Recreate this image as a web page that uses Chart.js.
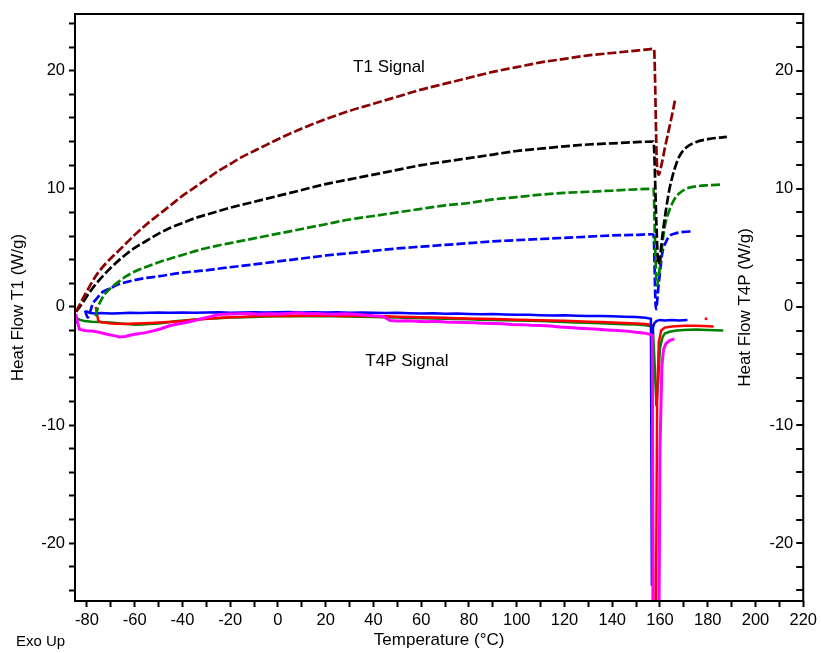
<!DOCTYPE html>
<html>
<head>
<meta charset="utf-8">
<title>DSC Heat Flow – T1 / T4P</title>
<script src="https://cdn.jsdelivr.net/npm/chart.js@4.4.1/dist/chart.umd.min.js"></script>
<style>
  html, body { margin: 0; padding: 0; background: #fff; }
  canvas { display: block; }
</style>
</head>
<body>
<canvas id="dsc" width="821" height="653"></canvas>
<script>
// ---------- axis ticks ----------
const xTickValues = [-80, -70, -60, -50, -40, -30, -20, -10, 0, 10, 20, 30, 40, 50, 60, 70, 80, 90, 100,
  110, 120, 130, 140, 150, 160, 170, 180, 190, 200, 210, 220];
const xLabelValues = [-80, -60, -40, -20, 0, 20, 40, 60, 80, 100, 120, 140, 160, 180, 200, 220];
const yTickValues = [-24, -22, -20, -18, -16, -14, -12, -10, -8, -6, -4, -2, 0, 2, 4, 6, 8, 10, 12, 14, 16, 18, 20, 22, 24];
const yLabelValues = [-20, -10, 0, 10, 20];
const xMin = -85, xMax = 220;
const yMin = -24.9, yMax = 24.8;

// ---------- T1 signal (dashed) ----------
const t1MaroonTemp = [-84.5, -82, -79, -76, -72, -68, -64, -60, -55, -50, -45, -40, -35, -30, -25, -20, -15, -10, -5, 0,
  10, 20, 30, 40, 50, 60, 70, 80, 90, 100, 110, 120, 130, 140, 150,
  155, 157.5, 158.7, 159.5, 160.5, 162, 163.5, 165, 166.3];
const t1MaroonFlow = [-0.4, 0.6, 1.7, 2.7, 3.7, 4.5, 5.3, 6.1, 7.0, 7.8, 8.6, 9.4, 10.1, 10.8, 11.5, 12.1, 12.7, 13.2, 13.7, 14.2,
  15.1, 15.9, 16.6, 17.2, 17.8, 18.4, 18.9, 19.4, 19.9, 20.3, 20.7, 21.0, 21.3, 21.5, 21.7,
  21.8, 21.85, 12.2, 11.2, 11.9, 13.4, 14.8, 16.2, 17.5];

const t1BlackTemp = [-84.5, -82, -79, -76, -72, -68, -64, -60, -55, -50, -45, -40, -35, -30, -25, -20, -10, 0,
  10, 20, 30, 40, 50, 60, 70, 80, 90, 100, 110, 120, 130, 140, 150,
  157.3, 158.5, 159.3, 160, 161, 162.5, 164, 166, 168, 171, 175, 180, 188];
const t1BlackFlow = [-0.4, 0.3, 1.2, 2.0, 2.9, 3.7, 4.4, 5.0, 5.6, 6.2, 6.7, 7.1, 7.5, 7.8, 8.1, 8.4, 8.9, 9.4,
  9.9, 10.4, 10.8, 11.2, 11.6, 12.0, 12.3, 12.6, 12.9, 13.2, 13.4, 13.6, 13.75, 13.85, 13.95,
  14.0, 7.0, 3.6, 4.2, 6.0, 8.2, 10.0, 11.6, 12.7, 13.5, 13.95, 14.2, 14.4];

const t1GreenTemp = [-76.3, -75.5, -74, -72, -70, -67, -63.5, -60, -55, -49.6, -45, -40, -35, -31.6, -25, -20, -10, 0,
  10, 20, 30, 40, 50, 60, 70, 80, 90, 100, 110, 120, 130, 140, 150,
  157.3, 158, 158.7, 159.5, 160.5, 162, 164, 166, 168, 171, 175, 180, 185.5];
const t1GreenFlow = [-0.8, -0.1, 0.6, 1.2, 1.6, 2.1, 2.6, 3.0, 3.4, 3.8, 4.1, 4.4, 4.7, 4.9, 5.2, 5.4, 5.8, 6.2,
  6.6, 7.0, 7.4, 7.7, 8.0, 8.3, 8.6, 8.8, 9.1, 9.3, 9.5, 9.65, 9.75, 9.85, 9.95,
  10.0, 5.0, 1.8, 2.6, 4.5, 6.8, 8.2, 9.1, 9.6, 10.0, 10.2, 10.3, 10.35];

const t1BlueTemp = [-80.8, -79.6, -78.5, -77.7, -75.5, -73.5, -70, -67, -63.5, -57, -49.6, -40, -30, -24.5, -10, 0,
  10, 20, 30, 40, 50, 60, 70, 80, 90, 100, 110, 120, 130, 140, 150,
  156.5, 157.3, 158.3, 159.5, 161, 162.5, 164, 166, 168, 170, 173.5];
const t1BlueFlow = [-0.3, -0.9, -0.3, 0.2, 0.8, 1.25, 1.6, 1.9, 2.1, 2.4, 2.6, 2.9, 3.1, 3.25, 3.6, 3.85,
  4.1, 4.35, 4.55, 4.75, 4.95, 5.1, 5.25, 5.4, 5.55, 5.65, 5.75, 5.85, 5.95, 6.05, 6.1,
  6.15, 6.1, -0.2, 2.0, 4.6, 5.5, 6.0, 6.2, 6.3, 6.35, 6.4];

// ---------- T4P signal (solid) ----------
const t4pBlueTemp = [-80.3, -79, -77, -74, -70, -66, -62, -58, -54, -50,
  -45, -40, -35, -30, -25, -20, -15, -10, -5, 0,
  5, 10, 15, 20, 25, 30, 35, 40, 45, 50, 55, 60, 65, 70, 75, 80, 85, 90, 95, 100,
  105, 110, 115, 120, 125, 130, 135, 140, 145, 150,
  154, 156.2, 156.6, 157.0, 157.6, 158.5, 160, 162, 165, 168, 171.5];
const t4pBlueFlow = [-0.35, -0.5, -0.55, -0.52, -0.55, -0.53, -0.5, -0.52, -0.5, -0.48,
  -0.5, -0.47, -0.5, -0.48, -0.46, -0.5, -0.47, -0.45, -0.48, -0.46,
  -0.44, -0.47, -0.45, -0.48, -0.46, -0.5, -0.48, -0.5, -0.52, -0.5, -0.53, -0.55, -0.54, -0.57, -0.56, -0.6, -0.62, -0.6, -0.64, -0.67,
  -0.66, -0.7, -0.72, -0.71, -0.75, -0.78, -0.77, -0.8, -0.83, -0.86,
  -0.92, -1.0, -23.6, -1.8, -1.4, -1.2, -1.1, -1.15, -1.1, -1.15, -1.1];

const t4pRedTemp = [-76.3, -75.8, -75.2, -74, -72, -70, -67, -64, -60, -56, -52, -48, -44, -40, -36, -32, -28, -24, -20,
  -15, -10, -5, 0, 5, 10, 15, 20, 25, 30, 35, 40, 45, 50, 55, 60, 65, 70, 75, 80,
  85, 90, 95, 100, 105, 110, 115, 120, 125, 130, 135, 140, 145, 150,
  154, 156.8, 157.3, 158.2, 158.8, 159.5, 160.5, 162, 165, 170, 175, 178, 182.5];
const t4pRedFlow = [0.0, -0.6, -1.2, -1.3, -1.35, -1.4, -1.42, -1.45, -1.4, -1.38, -1.35, -1.3, -1.25, -1.2, -1.1, -1.05, -0.98, -0.92, -0.88,
  -0.85, -0.8, -0.78, -0.75, -0.76, -0.72, -0.75, -0.73, -0.76, -0.74, -0.78, -0.8, -0.79, -0.83, -0.85, -0.88, -0.9, -0.92, -0.95, -0.98,
  -1.0, -1.03, -1.05, -1.08, -1.1, -1.12, -1.15, -1.18, -1.22, -1.25, -1.28, -1.32, -1.36, -1.4,
  -1.45, -1.55, -30, -30, -8, -3, -2.0, -1.75, -1.65, -1.6, -1.6, -1.62, -1.65];
// stray single reading after the run
const t4pRedDotTemp = [179.3];
const t4pRedDotFlow = [-1.0];

const t4pGreenTemp = [-84.6, -83, -81, -78, -75, -72, -69, -66, -63, -60, -57, -54, -50, -46, -42, -38, -34, -30, -25, -20,
  -15, -10, -5, 0, 5, 10, 15, 20, 25, 30, 35, 40, 45, 50, 55, 60, 65, 70, 75, 80,
  85, 90, 95, 100, 105, 110, 115, 120, 125, 130, 135, 140, 145, 150,
  154, 157, 157.8, 158.5, 159.3, 160, 161, 162, 164, 167, 170, 175, 180, 186.5];
const t4pGreenFlow = [-0.9, -1.1, -1.2, -1.25, -1.27, -1.3, -1.35, -1.4, -1.45, -1.5, -1.48, -1.45, -1.4, -1.3, -1.2, -1.12, -1.05, -1.0, -0.95, -0.9,
  -0.88, -0.85, -0.82, -0.8, -0.78, -0.8, -0.77, -0.79, -0.8, -0.82, -0.84, -0.86, -0.88, -0.9, -0.93, -0.95, -0.98, -1.0, -1.03, -1.05,
  -1.08, -1.1, -1.13, -1.15, -1.18, -1.2, -1.24, -1.28, -1.32, -1.35, -1.38, -1.42, -1.46, -1.5,
  -1.55, -1.65, -5, -8.4, -6, -3.5, -2.6, -2.25, -2.1, -2.0, -1.95, -1.92, -1.95, -2.0];

const t4pMagentaTemp = [-84.6, -84.0, -83.1, -81, -79, -77.7, -75, -72, -70.6, -68,
  -66.4, -64, -62, -59.3, -56, -52.6, -49, -45.5, -42, -38,
  -35.8, -32, -28, -24.5, -20, -16, -12, -8, -4, 0,
  4, 8, 12, 16, 20, 24, 28, 32, 36, 40,
  44, 47, 50, 54, 58, 62, 66, 70, 74, 78,
  82, 86, 90, 94, 98, 102, 106, 110, 114, 118,
  122, 126, 130, 134, 138, 142, 146, 150, 153, 155.5,
  156.8, 157.2, 159.2, 160.0, 160.8, 161.5, 162.5, 164, 166];
const t4pMagentaFlow = [-0.6, -1.3, -1.9, -2.0, -2.05, -2.05, -2.15, -2.3, -2.35, -2.45,
  -2.55, -2.5, -2.4, -2.3, -2.2, -2.05, -1.85, -1.6, -1.45, -1.3,
  -1.2, -1.0, -0.8, -0.65, -0.6, -0.58, -0.55, -0.62, -0.57, -0.6,
  -0.55, -0.5, -0.58, -0.55, -0.6, -0.63, -0.58, -0.62, -0.68, -0.75,
  -0.8, -1.15, -1.2, -1.18, -1.22, -1.25, -1.22, -1.28, -1.3, -1.32,
  -1.35, -1.38, -1.4, -1.42, -1.48, -1.5, -1.55, -1.58, -1.62, -1.7,
  -1.75, -1.8, -1.85, -1.9, -1.95, -2.0, -2.05, -2.15, -2.2, -2.3,
  -2.4, -40, -40, -12, -5, -3.6, -3.1, -2.85, -2.7];

// ---------- text ----------
const xAxisTitle = 'Temperature (°C)';
const leftAxisTitle = 'Heat Flow T1 (W/g)';
const rightAxisTitle = 'Heat Flow T4P (W/g)';
const exoLabel = 'Exo Up';
const t1Label = { text: 'T1 Signal', x: 46.5, y: 20.3 };
const t4pLabel = { text: 'T4P Signal', x: 54, y: -4.6 };

const FONT = '"Liberation Sans", Arial, sans-serif';
const tickFont = { size: 16.5, family: FONT };
const titleFont = { size: 17, family: FONT };

function points(xs, ys) {
  return xs.map((x, i) => ({ x, y: ys[i] }));
}

function t1Set(label, xs, ys, color) {
  return {
    label, data: points(xs, ys), yAxisID: 'y',
    borderColor: color, borderWidth: 2.7, borderDash: [9, 3],
    pointRadius: 0, cubicInterpolationMode: 'monotone', fill: false
  };
}
function t4pSet(label, xs, ys, color, width) {
  return {
    label, data: points(xs, ys), yAxisID: 'y2',
    borderColor: color, borderWidth: width, pointRadius: 0, tension: 0, fill: false
  };
}

// frame, inner right-hand axis and text labels
const dscDecor = {
  id: 'dscDecor',
  afterDraw(chart) {
    const { ctx, chartArea: a, scales } = chart;
    const sx = scales.x, sy = scales.y, sy2 = scales.y2;
    ctx.save();
    ctx.strokeStyle = '#000';
    ctx.lineWidth = 2;
    ctx.strokeRect(a.left, a.top, a.right - a.left, a.bottom - a.top);

    ctx.beginPath();
    for (const v of yTickValues) {
      const py = Math.round(sy2.getPixelForValue(v));
      ctx.moveTo(a.right - 7, py);
      ctx.lineTo(a.right, py);
    }
    ctx.stroke();

    ctx.fillStyle = '#000';
    ctx.font = tickFont.size + 'px ' + FONT;
    ctx.textAlign = 'right';
    ctx.textBaseline = 'middle';
    for (const v of yLabelValues) {
      ctx.fillText(String(v), a.right - 10, sy2.getPixelForValue(v));
    }

    ctx.font = titleFont.size + 'px ' + FONT;
    ctx.save();
    ctx.translate(a.right - 58, (a.top + a.bottom) / 2);
    ctx.rotate(-Math.PI / 2);
    ctx.textAlign = 'center';
    ctx.fillText(rightAxisTitle, 0, 0);
    ctx.restore();

    ctx.textAlign = 'center';
    ctx.fillText(t1Label.text, sx.getPixelForValue(t1Label.x), sy.getPixelForValue(t1Label.y));
    ctx.fillText(t4pLabel.text, sx.getPixelForValue(t4pLabel.x), sy2.getPixelForValue(t4pLabel.y));

    ctx.font = '15px ' + FONT;
    ctx.textAlign = 'left';
    ctx.fillText(exoLabel, 16, 642);
    ctx.restore();
  }
};

new Chart(document.getElementById('dsc'), {
  type: 'line',
  data: {
    datasets: [
      t1Set('T1 maroon', t1MaroonTemp, t1MaroonFlow, '#8B0000'),
      t1Set('T1 black', t1BlackTemp, t1BlackFlow, '#000000'),
      t1Set('T1 green', t1GreenTemp, t1GreenFlow, '#008000'),
      t1Set('T1 blue', t1BlueTemp, t1BlueFlow, '#0000FF'),
      t4pSet('T4P magenta', t4pMagentaTemp, t4pMagentaFlow, '#FF00FF', 3),
      t4pSet('T4P blue', t4pBlueTemp, t4pBlueFlow, '#0000FF', 2.5),
      t4pSet('T4P red', t4pRedTemp, t4pRedFlow, '#FF0000', 2.5),
      t4pSet('T4P green', t4pGreenTemp, t4pGreenFlow, '#008000', 2.5),
      {
        label: 'T4P red point', data: points(t4pRedDotTemp, t4pRedDotFlow), yAxisID: 'y2',
        showLine: false, pointRadius: 1.5, pointBackgroundColor: '#FF0000', pointBorderWidth: 0
      }
    ]
  },
  options: {
    responsive: false,
    devicePixelRatio: 1,
    animation: false,
    layout: { padding: { top: 14, right: 16, left: 0, bottom: 0 } },
    plugins: { legend: { display: false }, tooltip: { enabled: false } },
    scales: {
      x: {
        type: 'linear', position: 'bottom', min: xMin, max: xMax,
        afterBuildTicks: s => { s.ticks = xTickValues.map(v => ({ value: v })); },
        afterFit: s => { s.height = 52; },
        ticks: {
          autoSkip: false, maxRotation: 0, padding: 4, color: '#000', font: tickFont,
          callback: v => xLabelValues.includes(v) ? String(v) : ''
        },
        grid: { drawOnChartArea: false, drawTicks: true, tickLength: 6, tickColor: '#000', tickWidth: 2 },
        border: { display: false },
        title: { display: true, text: xAxisTitle, color: '#000', font: titleFont, padding: { top: 0, bottom: 2 } }
      },
      y: {
        type: 'linear', position: 'left', min: yMin, max: yMax,
        afterBuildTicks: s => { s.ticks = yTickValues.map(v => ({ value: v })); },
        afterFit: s => { s.width = 75; },
        ticks: {
          autoSkip: false, padding: 4, color: '#000', font: tickFont,
          callback: v => yLabelValues.includes(v) ? String(v) : ''
        },
        grid: { drawOnChartArea: false, drawTicks: true, tickLength: 6, tickColor: '#000', tickWidth: 2 },
        border: { display: false },
        title: { display: true, text: leftAxisTitle, color: '#000', font: titleFont, padding: { top: 8, bottom: 0 } }
      },
      y2: { type: 'linear', position: 'right', min: yMin, max: yMax, display: false }
    }
  },
  plugins: [dscDecor]
});
</script>
</body>
</html>
